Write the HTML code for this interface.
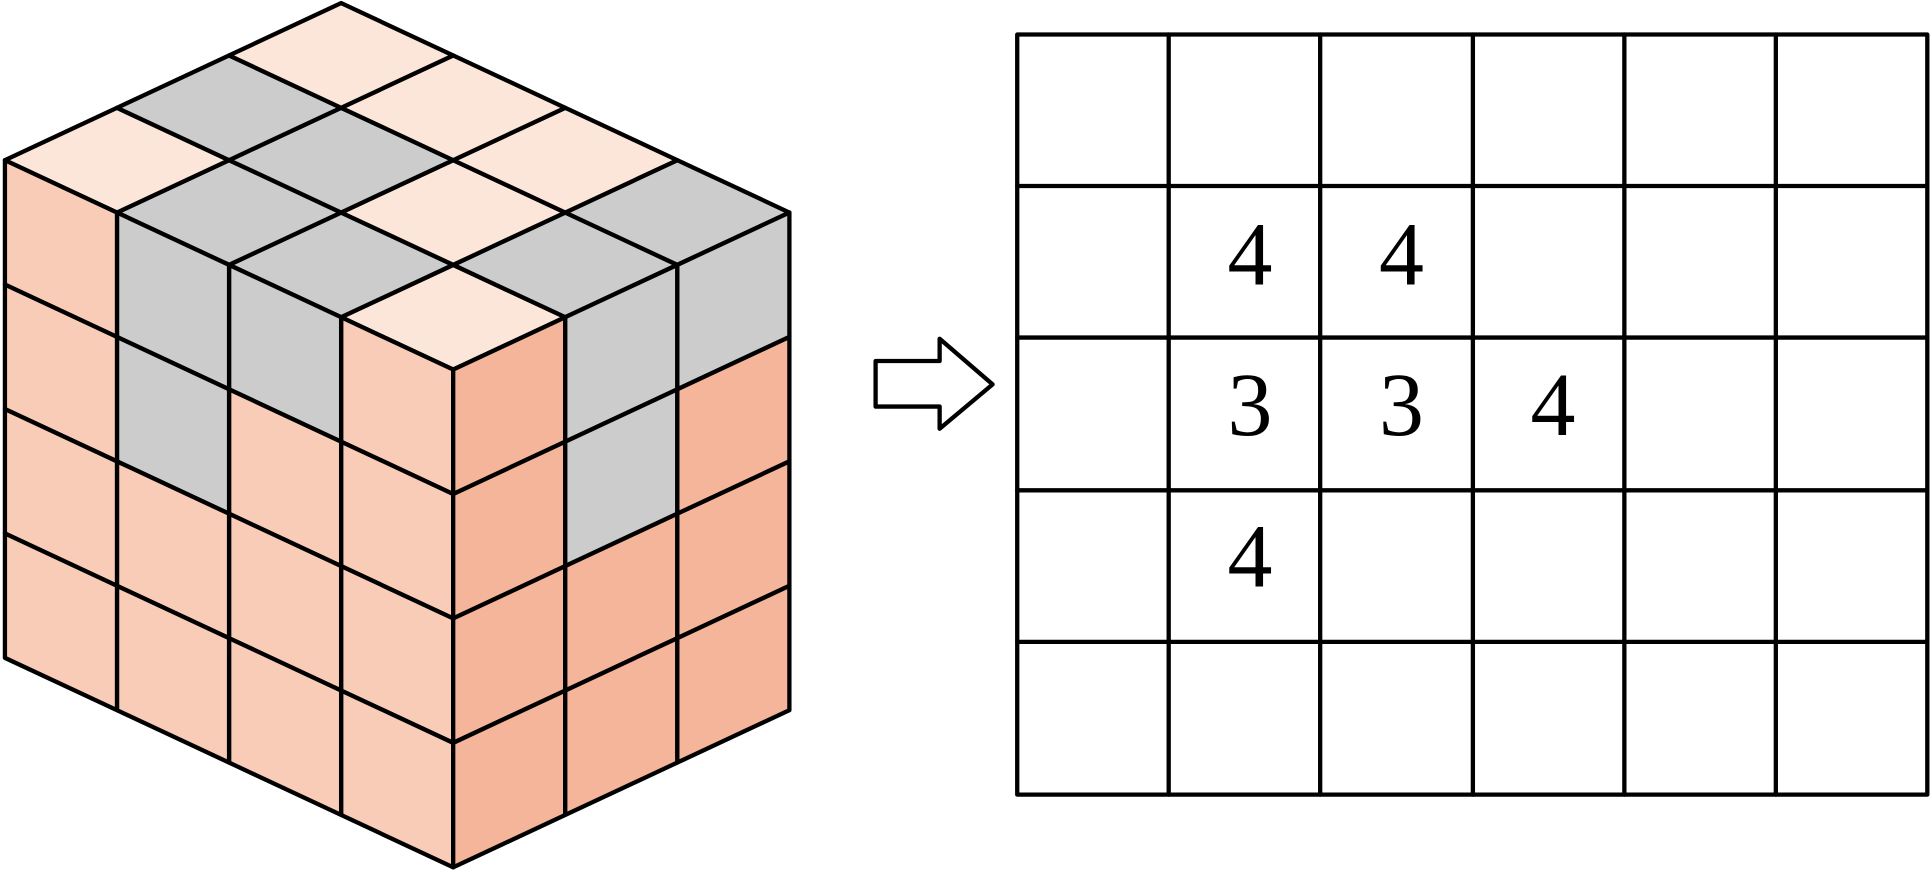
<!DOCTYPE html>
<html><head><meta charset="utf-8"><style>
html,body{margin:0;padding:0;background:#fff;width:1931px;height:871px;overflow:hidden}
svg{display:block}
</style></head><body>
<svg width="1931" height="871" viewBox="0 0 1568 707" preserveAspectRatio="none" xmlns="http://www.w3.org/2000/svg">
<g stroke="#000" stroke-width="4.3" stroke-linejoin="round" stroke-linecap="round">
<!-- top face -->
<g transform="matrix(-91,-42.5,91,-42.5,368,300)">
<rect x="0" y="0" width="1" height="1" fill="#fce5d9" vector-effect="non-scaling-stroke"/>
<rect x="1" y="0" width="1" height="1" fill="#cccccc" vector-effect="non-scaling-stroke"/>
<rect x="2" y="0" width="1" height="1" fill="#cccccc" vector-effect="non-scaling-stroke"/>
<rect x="3" y="0" width="1" height="1" fill="#fce5d9" vector-effect="non-scaling-stroke"/>
<rect x="0" y="1" width="1" height="1" fill="#cccccc" vector-effect="non-scaling-stroke"/>
<rect x="1" y="1" width="1" height="1" fill="#fce5d9" vector-effect="non-scaling-stroke"/>
<rect x="2" y="1" width="1" height="1" fill="#cccccc" vector-effect="non-scaling-stroke"/>
<rect x="3" y="1" width="1" height="1" fill="#cccccc" vector-effect="non-scaling-stroke"/>
<rect x="0" y="2" width="1" height="1" fill="#cccccc" vector-effect="non-scaling-stroke"/>
<rect x="1" y="2" width="1" height="1" fill="#fce5d9" vector-effect="non-scaling-stroke"/>
<rect x="2" y="2" width="1" height="1" fill="#fce5d9" vector-effect="non-scaling-stroke"/>
<rect x="3" y="2" width="1" height="1" fill="#fce5d9" vector-effect="non-scaling-stroke"/>
</g>
<!-- left face -->
<g transform="matrix(-91,-42.5,0,101,368,300)">
<rect x="0" y="0" width="1" height="1" fill="#f9ccb7" vector-effect="non-scaling-stroke"/>
<rect x="0" y="1" width="1" height="1" fill="#f9ccb7" vector-effect="non-scaling-stroke"/>
<rect x="0" y="2" width="1" height="1" fill="#f9ccb7" vector-effect="non-scaling-stroke"/>
<rect x="0" y="3" width="1" height="1" fill="#f9ccb7" vector-effect="non-scaling-stroke"/>
<rect x="1" y="0" width="1" height="1" fill="#cccccc" vector-effect="non-scaling-stroke"/>
<rect x="1" y="1" width="1" height="1" fill="#f9ccb7" vector-effect="non-scaling-stroke"/>
<rect x="1" y="2" width="1" height="1" fill="#f9ccb7" vector-effect="non-scaling-stroke"/>
<rect x="1" y="3" width="1" height="1" fill="#f9ccb7" vector-effect="non-scaling-stroke"/>
<rect x="2" y="0" width="1" height="1" fill="#cccccc" vector-effect="non-scaling-stroke"/>
<rect x="2" y="1" width="1" height="1" fill="#cccccc" vector-effect="non-scaling-stroke"/>
<rect x="2" y="2" width="1" height="1" fill="#f9ccb7" vector-effect="non-scaling-stroke"/>
<rect x="2" y="3" width="1" height="1" fill="#f9ccb7" vector-effect="non-scaling-stroke"/>
<rect x="3" y="0" width="1" height="1" fill="#f9ccb7" vector-effect="non-scaling-stroke"/>
<rect x="3" y="1" width="1" height="1" fill="#f9ccb7" vector-effect="non-scaling-stroke"/>
<rect x="3" y="2" width="1" height="1" fill="#f9ccb7" vector-effect="non-scaling-stroke"/>
<rect x="3" y="3" width="1" height="1" fill="#f9ccb7" vector-effect="non-scaling-stroke"/>
</g>
<!-- right face -->
<g transform="matrix(91,-42.5,0,101,368,300)">
<rect x="0" y="0" width="1" height="1" fill="#f5b59a" vector-effect="non-scaling-stroke"/>
<rect x="0" y="1" width="1" height="1" fill="#f5b59a" vector-effect="non-scaling-stroke"/>
<rect x="0" y="2" width="1" height="1" fill="#f5b59a" vector-effect="non-scaling-stroke"/>
<rect x="0" y="3" width="1" height="1" fill="#f5b59a" vector-effect="non-scaling-stroke"/>
<rect x="1" y="0" width="1" height="1" fill="#cccccc" vector-effect="non-scaling-stroke"/>
<rect x="1" y="1" width="1" height="1" fill="#cccccc" vector-effect="non-scaling-stroke"/>
<rect x="1" y="2" width="1" height="1" fill="#f5b59a" vector-effect="non-scaling-stroke"/>
<rect x="1" y="3" width="1" height="1" fill="#f5b59a" vector-effect="non-scaling-stroke"/>
<rect x="2" y="0" width="1" height="1" fill="#cccccc" vector-effect="non-scaling-stroke"/>
<rect x="2" y="1" width="1" height="1" fill="#f5b59a" vector-effect="non-scaling-stroke"/>
<rect x="2" y="2" width="1" height="1" fill="#f5b59a" vector-effect="non-scaling-stroke"/>
<rect x="2" y="3" width="1" height="1" fill="#f5b59a" vector-effect="non-scaling-stroke"/>
</g>
<!-- arrow -->
<polygon points="711,293 763,293 763,275 806,312 763,348 763,330 711,330" fill="#fff" vector-effect="non-scaling-stroke"/>
<!-- grid -->
<g fill="none">
<rect x="826" y="28" width="739" height="617" vector-effect="non-scaling-stroke"/>
<line x1="949" y1="28" x2="949" y2="645" vector-effect="non-scaling-stroke"/>
<line x1="1072" y1="28" x2="1072" y2="645" vector-effect="non-scaling-stroke"/>
<line x1="1196" y1="28" x2="1196" y2="645" vector-effect="non-scaling-stroke"/>
<line x1="1319" y1="28" x2="1319" y2="645" vector-effect="non-scaling-stroke"/>
<line x1="1442" y1="28" x2="1442" y2="645" vector-effect="non-scaling-stroke"/>
<line x1="826" y1="151" x2="1565" y2="151" vector-effect="non-scaling-stroke"/>
<line x1="826" y1="274" x2="1565" y2="274" vector-effect="non-scaling-stroke"/>
<line x1="826" y1="398" x2="1565" y2="398" vector-effect="non-scaling-stroke"/>
<line x1="826" y1="521" x2="1565" y2="521" vector-effect="non-scaling-stroke"/>
</g>
</g>
<g font-family="'Liberation Serif', serif" font-size="73" text-anchor="middle" fill="#000">
<text x="1015" y="231">4</text>
<text x="1138" y="231">4</text>
<text x="1015" y="353">3</text>
<text x="1138" y="353">3</text>
<text x="1261" y="353">4</text>
<text x="1015" y="476">4</text>
</g>
</svg>
</body></html>
